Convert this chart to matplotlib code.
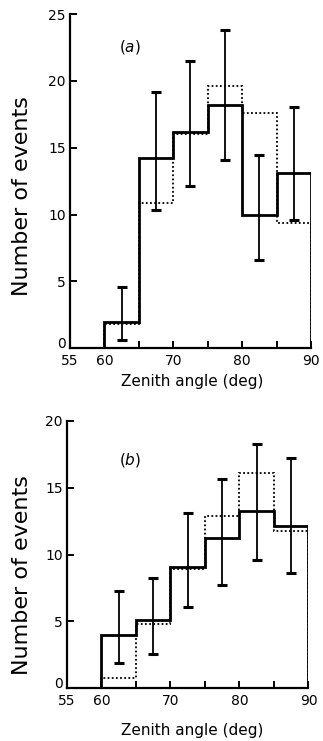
import matplotlib
matplotlib.use("Agg")
import matplotlib.pyplot as plt
import matplotlib.transforms as mtransforms
import numpy as np

plt.rcParams['font.family'] = ['DejaVu Sans']

edges = [60, 65, 70, 75, 80, 85, 90]
centers = [62.5, 67.5, 72.5, 77.5, 82.5, 87.5]

# Panel (a)
a_solid = [2.0, 14.2, 16.2, 18.2, 10.0, 13.1]
a_dotted = [1.8, 10.9, 16.0, 19.6, 17.6, 9.4]
a_err_lo = [0.65, 10.35, 12.1, 14.1, 6.6, 9.6]
a_err_hi = [4.6, 19.2, 21.5, 23.8, 14.46, 18.07]

# Panel (b)
b_solid = [4.0, 5.1, 9.1, 11.2, 13.25, 12.15]
b_dotted = [0.75, 4.8, 8.9, 12.9, 16.1, 11.75]
b_err_lo = [1.9, 2.56, 6.1, 7.7, 9.6, 8.62]
b_err_hi = [7.3, 8.22, 13.1, 15.65, 18.26, 17.23]

xticks = [55, 60, 65, 70, 75, 80, 85, 90]
xticklabels = ['55', '60', '', '70', '', '80', '', '90']

fig = plt.figure(figsize=(3.23, 7.41), dpi=100)

def panel(rect, solid, dotted, lo, hi, ymax, label, tag_xy, ylab_xy, xlab_xy):
    ax = fig.add_axes(rect)
    ax.stairs(dotted, edges, baseline=0, color='black', lw=1.3,
              linestyle=(0, (1, 1.3)))
    ax.stairs(solid, edges, baseline=0, color='black', lw=2.0)
    mid = np.array(solid)
    yerr = [mid - np.array(lo), np.array(hi) - mid]
    ax.errorbar(centers, solid, yerr=yerr, fmt='none', ecolor='black',
                elinewidth=1.3, capsize=3.5, capthick=2.2, clip_on=False)
    ax.set_xlim(55, 90)
    ax.set_ylim(0, ymax)
    ax.spines['top'].set_visible(False)
    ax.spines['right'].set_visible(False)
    ax.spines['left'].set_linewidth(1.6)
    ax.spines['bottom'].set_linewidth(1.6)
    ax.set_xticks(xticks)
    ax.set_xticklabels(xticklabels)
    ax.set_yticks(np.arange(0, ymax + 1, 5))
    ax.tick_params(direction='in', length=5, width=1.4, labelsize=10)
    ax.tick_params(axis='x', pad=4)
    ax.tick_params(axis='y', pad=3)
    fig.canvas.draw()
    zero_lab = ax.get_yticklabels()[0]
    zero_lab.set_transform(zero_lab.get_transform() +
                           mtransforms.ScaledTranslation(0, 4 / 72, fig.dpi_scale_trans))
    ax.set_xlabel('Zenith angle (deg)', fontsize=11)
    ax.xaxis.set_label_coords(*xlab_xy)
    ax.xaxis.label.set_va('center')
    ax.set_ylabel('Number of events', fontsize=16)
    ax.yaxis.set_label_coords(*ylab_xy)
    ax.yaxis.label.set_va('center')
    ax.text(tag_xy[0], tag_xy[1], '(' + r'$\mathit{' + label + '}$' + ')',
            fontsize=11, ha='center', va='center')
    return ax

panel([0.2167, 0.5300, 0.746, 0.4511], a_solid, a_dotted, a_err_lo, a_err_hi,
      25, 'a', (63.7, 22.5), (-0.199, 0.456), (0.506, -0.10))
panel([0.2074, 0.0711, 0.7477, 0.3611], b_solid, b_dotted, b_err_lo, b_err_hi,
      20, 'b', (64.1, 17.1), (-0.186, 0.423), (0.518, -0.156))

fig.savefig('out.png', dpi=100)
